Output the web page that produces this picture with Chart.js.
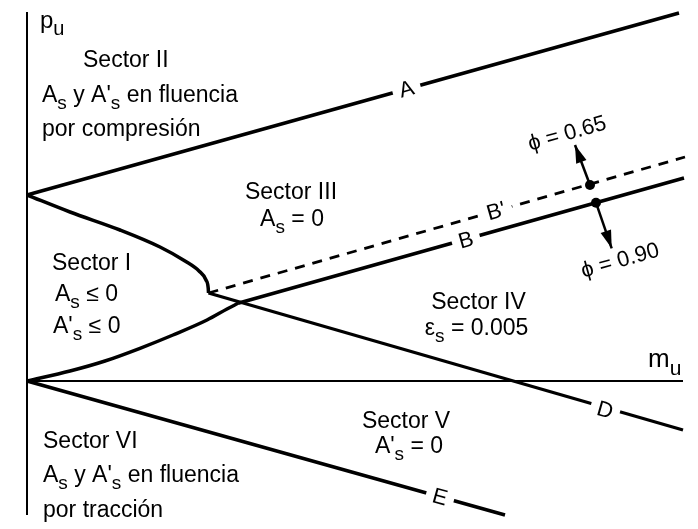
<!DOCTYPE html>
<html><head><meta charset="utf-8">
<script src="https://cdn.jsdelivr.net/npm/chart.js@4/dist/chart.umd.min.js"></script>
<style>html,body{margin:0;padding:0;background:#fff;} #wrap{width:698px;height:529px;position:relative;}</style>
</head><body><div id="wrap"><canvas id="c"></canvas></div>
<script>
// ---- Data (m_u horizontal, p_u vertical, arbitrary units) ----
const axisP_m = [0, 0],        axisP_p = [3.69, -1.34];
const axisM_m = [0, 6.56],     axisM_p = [0, 0];
const lineA_m = [0, 6.52],     lineA_p = [1.86, 3.68];
const curveTop_m = [0, 0.43, 0.93, 1.33, 1.58, 1.72, 1.79, 1.812, 1.815];
const curveTop_p = [1.86, 1.69, 1.51, 1.34, 1.20, 1.10, 1.01, 0.93, 0.88];
const curveBot_m = [0, 0.43, 0.78, 1.13, 1.46, 1.80, 2.00, 2.11];
const curveBot_p = [0, 0.10, 0.20, 0.327, 0.46, 0.61, 0.72, 0.777];
const lineB_m = [2.11, 6.57],  lineB_p = [0.777, 2.03];
const lineBp_m = [1.815, 6.58], lineBp_p = [0.88, 2.24];
const lineD_m = [1.815, 6.56], lineD_p = [0.88, -0.49];
const lineE_m = [0, 4.78],     lineE_p = [0, -1.34];
const dots_m = [5.63, 5.69],   dots_p = [1.96, 1.783];
const arrowTip_m = [5.48, 5.847], arrowTip_p = [2.36, 1.327];

// text annotations
const sectorTexts = [
  {t:'p_u', m:0.13, p:3.53, size:24, align:'left'},
  {t:'Sector II', m:0.56, p:3.14, align:'left'},
  {t:"A_s y A'_s en fluencia", m:0.15, p:2.79, align:'left'},
  {t:'por compresión', m:0.15, p:2.45, align:'left'},
  {t:'Sector III', m:2.64, p:1.82, align:'center'},
  {t:'A_s = 0', m:2.65, p:1.55, align:'center'},
  {t:'Sector I', m:0.25, p:1.11, align:'left'},
  {t:'A_s ≤ 0', m:0.28, p:0.80, align:'left'},
  {t:"A'_s ≤ 0", m:0.26, p:0.48, align:'left'},
  {t:'Sector IV', m:4.515, p:0.725, align:'center'},
  {t:'ε_s = 0.005', m:4.495, p:0.46, align:'center'},
  {t:'m_u', m:6.21, p:0.14, size:26, align:'left'},
  {t:'Sector V', m:3.79, p:-0.47, align:'center'},
  {t:"A'_s = 0", m:3.82, p:-0.72, align:'center'},
  {t:'Sector VI', m:0.16, p:-0.67, align:'left'},
  {t:"A_s y A'_s en fluencia", m:0.16, p:-1.01, align:'left'},
  {t:'por tracción', m:0.16, p:-1.36, align:'left'}
];
const lineLabels = [
  {t:'A', m:3.795, p:2.92, rot:-15.6, gap:true},
  {t:'B', m:4.39, p:1.41, rot:-15.7, gap:true},
  {t:"B'", m:4.69, p:1.70, rot:-16, gap:true},
  {t:'D', m:5.78, p:-0.29, rot:16, gap:true},
  {t:'E', m:4.13, p:-1.16, rot:15.6, gap:true},
  {t:'ϕ = 0.65', m:5.40, p:2.48, rot:-15.7, gap:false, size:22},
  {t:'ϕ = 0.90', m:5.93, p:1.21, rot:-15.7, gap:false, size:22}
];

const FONT = '"Liberation Sans", Arial, Helvetica, sans-serif';
const pts = (ms, ps) => ms.map((m, i) => ({x: m, y: ps[i]}));
function ds(ms, ps, extra) {
  return Object.assign({data: pts(ms, ps), showLine: true, borderColor: '#000', borderWidth: 3.5,
    pointRadius: 0, fill: false, tension: 0, borderCapStyle: 'butt'}, extra || {});
}
const shafts = arrowTip_m.map((m, i) => ds([dots_m[i], m], [dots_p[i], arrowTip_p[i]], {borderWidth: 2.5}));

function parseRich(s) {
  const parts = [];
  for (let i = 0; i < s.length; i++) {
    if (s[i] === '_' && i + 1 < s.length) { parts.push({t: s[i+1], sub: true}); i++; }
    else if (parts.length && !parts[parts.length-1].sub) parts[parts.length-1].t += s[i];
    else parts.push({t: s[i], sub: false});
  }
  return parts;
}
function drawRich(ctx, str, x, y, size, align) {
  const parts = parseRich(str);
  const sub = Math.round(size * 0.82);
  let w = 0;
  parts.forEach(p => { ctx.font = (p.sub ? sub : size) + 'px ' + FONT; p.w = ctx.measureText(p.t).width; w += p.w; });
  let cx = align === 'center' ? x - w / 2 : x;
  ctx.textAlign = 'left'; ctx.textBaseline = 'alphabetic';
  parts.forEach(p => { ctx.font = (p.sub ? sub : size) + 'px ' + FONT; ctx.fillText(p.t, cx, y + (p.sub ? size * 0.3 : 0)); cx += p.w; });
}

const annot = {
  id: 'annot',
  afterDatasetsDraw(chart) {
    const ctx = chart.ctx, xs = chart.scales.x, ys = chart.scales.y;
    ctx.save();
    ctx.fillStyle = '#000';
    // arrowheads
    arrowTip_m.forEach((m, i) => {
      const tx = xs.getPixelForValue(m), ty = ys.getPixelForValue(arrowTip_p[i]);
      const fx = xs.getPixelForValue(dots_m[i]), fy = ys.getPixelForValue(dots_p[i]);
      const a = Math.atan2(ty - fy, tx - fx), L = 18, H = 5.5;
      ctx.beginPath();
      ctx.moveTo(tx, ty);
      ctx.lineTo(tx - L*Math.cos(a) + H*Math.sin(a), ty - L*Math.sin(a) - H*Math.cos(a));
      ctx.lineTo(tx - L*Math.cos(a) - H*Math.sin(a), ty - L*Math.sin(a) + H*Math.cos(a));
      ctx.closePath(); ctx.fill();
    });
    // line labels
    lineLabels.forEach(l => {
      const x = xs.getPixelForValue(l.m), y = ys.getPixelForValue(l.p);
      const size = l.size || 22;
      ctx.save();
      ctx.translate(x, y); ctx.rotate(l.rot * Math.PI / 180);
      ctx.font = size + 'px ' + FONT;
      const w = ctx.measureText(l.t).width;
      if (l.gap) { ctx.fillStyle = '#fff'; ctx.fillRect(-w/2 - 7, -7, w + 14, 14); }
      ctx.fillStyle = '#000'; ctx.textAlign = 'center'; ctx.textBaseline = 'middle';
      ctx.fillText(l.t, 0, 1);
      ctx.restore();
    });
    // sector texts
    ctx.fillStyle = '#000';
    sectorTexts.forEach(s => {
      drawRich(ctx, s.t, xs.getPixelForValue(s.m), ys.getPixelForValue(s.p), s.size || 23, s.align);
    });
    ctx.restore();
  }
};

new Chart(document.getElementById('c'), {
  type: 'scatter',
  data: {
    datasets: [
      ds(axisP_m, axisP_p, {borderWidth: 2}),
      ds(axisM_m, axisM_p, {borderWidth: 2}),
      ds(lineA_m, lineA_p),
      ds(curveTop_m, curveTop_p, {cubicInterpolationMode: 'monotone'}),
      ds(curveBot_m, curveBot_p, {cubicInterpolationMode: 'monotone'}),
      ds(lineB_m, lineB_p),
      ds(lineBp_m, lineBp_p, {borderWidth: 2.8, borderDash: [10, 8]}),
      ds(lineD_m, lineD_p, {borderWidth: 3.2}),
      ds(lineE_m, lineE_p),
      ...shafts,
      {data: pts(dots_m, dots_p), showLine: false, pointRadius: 5, pointBackgroundColor: '#000', pointBorderColor: '#000', pointBorderWidth: 0}
    ]
  },
  options: {
    responsive: true, maintainAspectRatio: false, animation: false,
    layout: {padding: 0, autoPadding: false},
    scales: {
      x: {type: 'linear', min: -0.27, max: 6.71, display: false},
      y: {type: 'linear', min: -1.48, max: 3.81, display: false}
    },
    plugins: {legend: {display: false}, tooltip: {enabled: false}}
  },
  plugins: [annot]
});
</script></body></html>
